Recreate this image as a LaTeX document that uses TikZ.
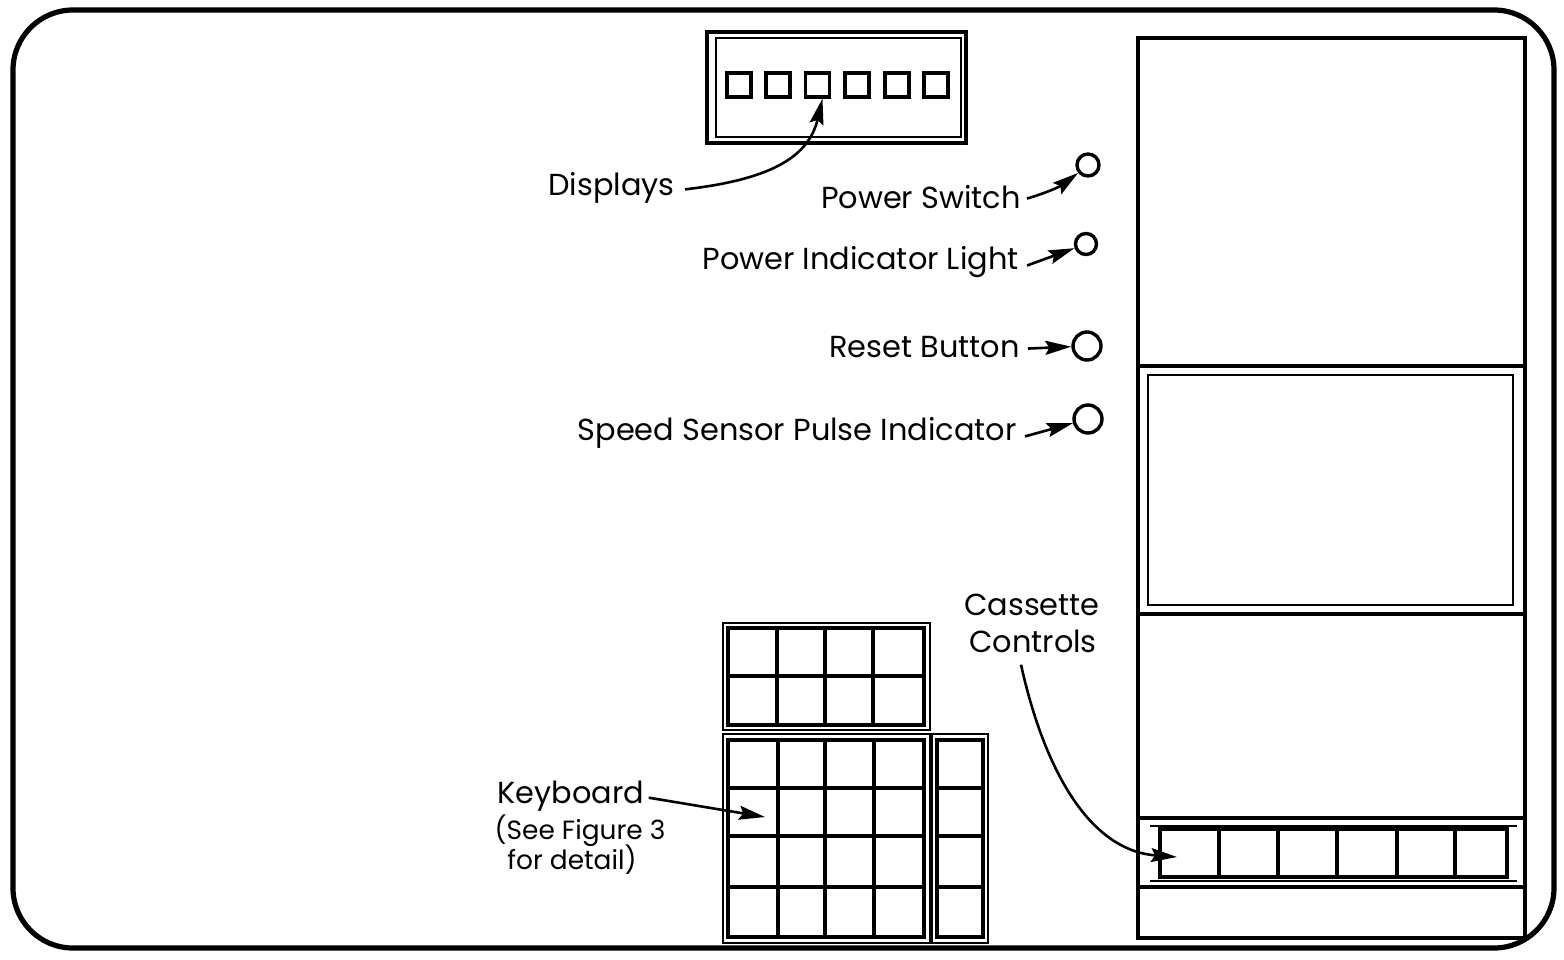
\documentclass[tikz,border=0pt]{standalone}
\usepackage{fontspec}
\setmainfont{Poppins}
\usetikzlibrary{arrows.meta}
\begin{document}
\begin{tikzpicture}[x=0.5pt,y=-0.5pt,
  thickln/.style={line width=1.7pt},
  thinln/.style={line width=0.9pt},
  lbl/.style={font=\fontsize{15.2}{17}\selectfont, inner sep=0pt},
  slbl/.style={font=\fontsize{13.2}{15}\selectfont, inner sep=0pt},
  arr/.style={-{Stealth[length=13pt,width=7pt,inset=2pt]}, line width=1.3pt},
  dsq/.style={draw, line width=1.6pt, minimum size=12pt, inner sep=0pt},
  knob/.style={circle, draw, line width=1.7pt, inner sep=0pt}]
\useasboundingbox (0,0) rectangle (1564,959);
% outer border
\draw[line width=2.6pt, rounded corners=30pt] (13,10) rectangle (1554,948);
% displays panel
\draw[line width=1.9pt] (707,32) rectangle (966,143);
\draw[thinln] (716,38) rectangle (961,137);
\foreach \i/\x in {1/739,2/778,3/817.5,4/857,5/897,6/936}
  \node[dsq] (sq\i) at (\x,85) {};
% labels and knobs
\node[lbl, anchor=base east] (disp) at (675,195) {Displays};
\draw[arr] ([xshift=5pt,yshift=-1pt]disp.east) .. controls (765,180) and (808,160) .. ([xshift=2.5pt]sq3.south);
\node[knob, minimum size=11pt] (c1) at (1088,165) {};
\node[knob, minimum size=10.5pt] (c2) at (1086,244) {};
\node[knob, minimum size=14pt] (c3) at (1087,346) {};
\node[knob, minimum size=14pt] (c4) at (1088,419) {};
\node[lbl, anchor=base east] (ps) at (1021,208) {Power Switch};
\node[lbl, anchor=base east] (pil) at (1019,269) {Power Indicator Light};
\node[lbl, anchor=base east] (rb) at (1020,357) {Reset Button};
\node[lbl, anchor=base east] (ss) at (1017,440) {Speed Sensor Pulse Indicator};
\draw[arr] ([xshift=3pt,yshift=-1pt]ps.east) to[bend right=10] (c1);
\draw[arr] ([xshift=4pt,yshift=-2pt]pil.east) -- (c2);
\draw[arr] ([xshift=4pt,yshift=-1pt]rb.east) -- (c3);
\draw[arr] ([xshift=4pt,yshift=-2pt]ss.east) -- (c4);
% right panel
\draw[line width=1.9pt] (1138,38) rectangle (1525,938);
\draw[thickln] (1138,366) -- (1525,366);
\draw[thickln] (1138,614) -- (1525,614);
\draw[line width=1.1pt] (1148,375) rectangle (1513,605);
\draw[thickln] (1138,818) -- (1525,818);
\draw[thickln] (1138,887) -- (1525,887);
\draw[line width=1pt] (1150,826) -- (1517,826);
\draw[line width=1pt] (1150,881) -- (1517,881);
\draw[thickln] (1160,829) rectangle (1507,877);
\foreach \x in {1219,1278,1337,1397,1455}
  \draw[thickln] (\x,829) -- (\x,877);
\coordinate (cst) at (1177,857);
\node[lbl, anchor=base] (cc1) at (1032,615) {Cassette};
\node[lbl, anchor=base] (cc) at (1033,652) {Controls};
\draw[arr] ([xshift=-6pt,yshift=-6pt]cc.south) .. controls (1042,760) and (1085,850) .. (cst);
% keyboard top block
\draw[thinln] (723,623) rectangle (930,730);
\draw[thickln] (728,628) rectangle (924,725);
\foreach \x in {777,825,873} \draw[thickln] (\x,628) -- (\x,725);
\draw[thickln] (728,676) -- (924,676);
% keyboard lower block
\draw[thinln] (723,734) rectangle (930,943);
\draw[thickln] (728,740) rectangle (924,937);
\foreach \x in {778,825,874} \draw[thickln] (\x,740) -- (\x,937);
\foreach \y in {788,836,887} \draw[thickln] (728,\y) -- (924,\y);
% side block
\draw[thinln] (932,734) rectangle (988,943);
\draw[thickln] (937,740) rectangle (983,937);
\foreach \y in {788,836,887} \draw[thickln] (937,\y) -- (983,\y);
% keyboard label
\node[lbl, anchor=base] (kb) at (571,803) {Keyboard};
\node[slbl, anchor=base] (kb2) at (580,839) {(See Figure 3};
\node[slbl, anchor=base] (kb3) at (572,869) {for detail)};
\coordinate (kbt) at (765,817);
\draw[arr] ([xshift=2pt,yshift=-1pt]kb.east) -- (kbt);
\end{tikzpicture}
\end{document}
